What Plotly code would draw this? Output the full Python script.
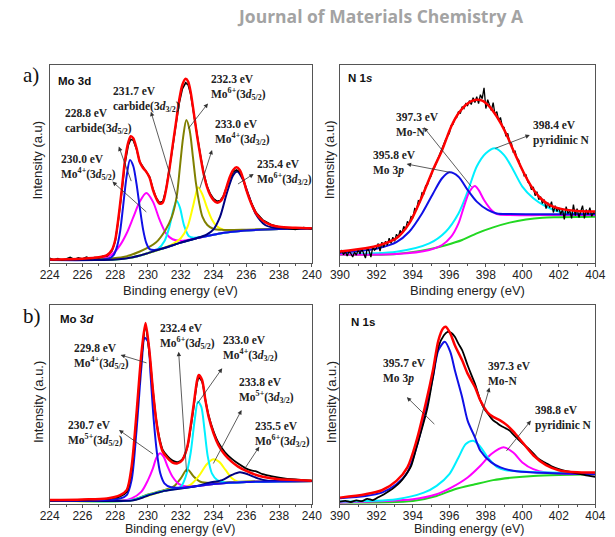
import plotly.graph_objects as go

# ---------------- Panel a (left): Mo 3d ----------------
AM_BG_X = [224, 226, 227, 228, 228.5, 229, 229.5, 230, 230.5, 231, 231.5, 232, 232.5, 233, 233.5, 234, 234.5, 235, 236, 237, 238, 240]
AM_BG_Y = [1.5, 1.5, 1.6, 1.8, 2.2, 2.8, 3.8, 5.0, 6.3, 7.6, 9.0, 10.3, 11.5, 12.6, 13.5, 14.3, 15.0, 15.6, 16.4, 16.9, 17.2, 17.4]

AM_BLUE_X = [224, 227, 227.6, 227.9, 228.1, 228.3, 228.5, 228.7, 228.9, 229.1, 229.3, 229.5, 229.7, 229.9, 230.1, 230.4, 231, 232, 233, 234, 235, 236, 238, 240]
AM_BLUE_Y = [1.5, 1.6, 2.2, 4, 8, 16, 30, 44, 52, 49, 40, 28, 17, 10, 7, 6.6, 7.6, 10.3, 12.6, 14.3, 15.6, 16.4, 17.2, 17.4]

AM_MAG_X = [224, 226.5, 227.5, 227.9, 228.3, 228.7, 229.1, 229.5, 229.9, 230.3, 230.7, 231.1, 231.5, 232.0, 232.5, 233, 234, 235, 236, 238, 240]
AM_MAG_Y = [1.5, 1.7, 3, 5, 9, 15, 23, 31, 35.3, 31, 22, 15, 12, 11.2, 11.8, 12.6, 14.3, 15.6, 16.4, 17.2, 17.4]

AM_CYAN_X = [224, 229, 230, 230.6, 231.0, 231.3, 231.55, 231.75, 231.95, 232.2, 232.5, 232.8, 233.3, 234, 235, 236, 238, 240]
AM_CYAN_Y = [1.5, 2.8, 5, 7, 11, 18, 27, 31.5, 28, 19, 13.5, 12.8, 13.2, 14.3, 15.6, 16.4, 17.2, 17.4]

AM_OLIVE_X = [224, 227.5, 228.5, 229.5, 230.5, 231.07, 231.46, 231.75, 231.95, 232.15, 232.34, 232.54, 232.74, 232.93, 233.13, 233.32, 233.62, 234.0, 234.6, 236, 238, 240]
AM_OLIVE_Y = [1.5, 2.2, 3.0, 5.8, 10.5, 16.7, 23.4, 33.5, 48.6, 63.8, 72.2, 67.2, 53.7, 40.2, 30.1, 23.4, 19.2, 17.2, 16.7, 16.8, 17.2, 17.5]

AM_YEL_X = [224, 229, 230.5, 231.5, 232.0, 232.4, 232.7, 232.9, 233.05, 233.3, 233.6, 233.9, 234.2, 234.6, 235.2, 236, 238, 240]
AM_YEL_Y = [1.5, 2.8, 6.3, 9.5, 12.5, 18, 27, 34, 38.2, 35, 28, 22, 18.5, 16.8, 16.2, 16.6, 17.2, 17.4]

AM_NAVY_X = [224, 228, 229, 230, 231, 232, 233, 233.6, 234.0, 234.4, 234.8, 235.2, 235.45, 235.8, 236.17, 236.56, 237.15, 237.7, 238.5, 240]
AM_NAVY_Y = [1.5, 1.8, 2.8, 5.0, 7.6, 10.3, 12.6, 14.5, 17, 23.4, 35, 44.4, 46.2, 42, 33.5, 25, 19.2, 17.8, 17.4, 17.4]

AM_BLK_X = [224, 224.25, 224.5, 224.75, 225, 225.25, 225.5, 225.75, 226, 226.25, 226.5, 226.75, 227, 227.25, 227.5,
            227.8, 228.0, 228.2, 228.4, 228.6, 228.8, 228.95, 229.1, 229.3, 229.5, 229.7, 229.9, 230.1, 230.3, 230.5,
            230.7, 230.9, 231.1, 231.3, 231.5, 231.7, 231.9, 232.1, 232.3, 232.45, 232.6, 232.8, 233.0, 233.2, 233.4,
            233.6, 233.8, 234.0, 234.2, 234.4, 234.6, 234.8, 235.0, 235.2, 235.4, 235.6, 235.8, 236.0, 236.3, 236.6,
            237.0, 237.5, 238, 238.5, 239, 239.5, 240]
AM_BLK_Y = [2.4, 1.6, 2.2, 1.4, 2.0, 2.8, 1.8, 2.6, 2.0, 3.0, 2.2, 2.8, 2.6, 3.4, 3.6,
            6.0, 11.0, 22, 36, 50.5, 59.5, 62.5, 62, 57.5, 51, 48.5, 46.5, 43.5, 37.5, 33,
            30.5, 31, 37, 46.5, 58, 69.5, 80.5, 88, 91, 90, 85.5, 75, 64, 54.5, 45.5,
            39, 35, 32.5, 31.2, 31.5, 33.8, 38.5, 43, 46, 47, 46, 42.5, 37, 30.5, 25.5,
            21.8, 19.5, 18.2, 17.6, 17.0, 17.9, 17.2]

AM_RED_X = [224, 226, 227, 227.5, 227.8, 228.0, 228.2, 228.4, 228.6, 228.8, 228.95, 229.1, 229.3, 229.5, 229.7,
            229.9, 230.1, 230.3, 230.5, 230.7, 230.9, 231.1, 231.3, 231.5, 231.7, 231.9, 232.1, 232.3, 232.45, 232.6,
            232.8, 233.0, 233.2, 233.4, 233.6, 233.8, 234.0, 234.2, 234.4, 234.6, 234.8, 235.0, 235.2, 235.4, 235.6,
            235.8, 236.0, 236.3, 236.6, 237.0, 237.5, 238, 239, 240]
AM_RED_Y = [1.8, 2.2, 2.9, 4.0, 6.6, 11.6, 23, 37, 52, 61, 64, 63, 58, 51, 48,
            46, 43, 37, 32.7, 30, 30.5, 37, 47, 59, 70.5, 82, 90, 93, 91.6, 86.5,
            75.6, 64, 54, 45, 38.5, 34.3, 31.8, 30.5, 31, 33.5, 38.5, 43.6, 47, 48.3, 47,
            42.8, 36.9, 30, 25, 21.4, 19.2, 18.3, 17.8, 17.5]

# ---------------- Panel a (right): N 1s ----------------
AN_BG_X = [390, 393.1, 394.9, 395.8, 396.7, 397.5, 398.4, 399.3, 400.2, 401.1, 402, 404]
AN_BG_Y = [4.2, 4.6, 7.0, 9.0, 11.6, 15, 18, 20.4, 22, 22.9, 23.1, 23.4]

AN_BLUE_X = [390, 391.4, 392.2, 393.1, 393.8, 394.5, 395.1, 395.6, 396.0, 396.5, 397.0, 397.5, 398.1, 398.6, 399.3, 401, 404]
AN_BLUE_Y = [5.2, 6.4, 7.7, 10.6, 15.8, 25, 35, 42.8, 45.8, 43.6, 36.9, 31, 26.8, 25, 24.7, 24.6, 24.6]

AN_MAG_X = [390, 393.1, 394.9, 395.6, 396.1, 396.5, 396.8, 397.1, 397.4, 397.6, 397.9, 398.3, 398.6, 399.3, 401, 404]
AN_MAG_Y = [4.3, 4.5, 6.6, 9.1, 13.3, 20, 28.5, 36, 38.9, 36.9, 31.8, 26.8, 24.7, 24.2, 24.2, 24.3]

AN_CYAN_X = [390, 393.1, 394.9, 395.8, 396.5, 397.0, 397.5, 398.0, 398.5, 399.0, 399.5, 400.0, 400.6, 401.3, 402.0, 402.9, 404]
AN_CYAN_Y = [4.6, 5.7, 9.9, 15.8, 25, 36, 48.7, 55.4, 57.9, 54.5, 47, 38.6, 32.7, 28.5, 26, 25, 24.7]

AN_BLK_Y = [5.0, 6.5, 4.2, 5.8, 3.5, 6.0, 4.8, 3.0, 5.5, 4.0,
            6.8, 4.5, 7.2, 5.0, 2.5, 7.5, 6.0, 3.0, 8.0, 6.5,
            7.5, 9.8, 6.0, 10.5, 8.0, 11.0, 9.0, 12.5, 10.0, 13.0,
            11.0, 14.5, 13.0, 16.5, 15.0, 18.5, 17.0, 21.0, 20.0, 23.5,
            23.0, 27.5, 27.0, 31.5, 31.0, 35.5, 35.0, 39.0, 39.5, 42.5,
            44.0, 47.5, 48.5, 51.0, 53.5, 55.0, 58.5, 60.0, 62.5, 64.0,
            65.5, 69.5, 70.0, 73.0, 73.5, 76.5, 75.5, 79.0, 78.0, 80.5,
            79.5, 82.0, 80.0, 83.5, 81.0, 84.0, 80.5, 85.0, 83.0, 88.5,
            78.0, 82.5, 80.0, 77.0, 81.0, 75.0, 76.5, 72.0, 73.5, 69.0,
            68.5, 64.0, 65.5, 61.0, 60.5, 56.0, 56.5, 53.0, 52.0, 48.5,
            47.5, 44.0, 44.5, 41.0, 40.0, 37.0, 38.5, 34.0, 36.0, 32.0,
            33.5, 30.0, 32.0, 27.5, 30.5, 28.0, 31.0, 25.5, 29.0, 26.0,
            28.0, 24.5, 27.0, 22.0, 28.5, 25.0, 26.5, 22.5, 29.5, 24.0,
            27.5, 23.0, 26.0, 29.0, 22.5, 27.0, 24.5, 28.0, 23.5, 25.5,
            25.0]
AN_BLK_X = [round(390 + 0.1 * i, 1) for i in range(len(AN_BLK_Y))]

AN_RED_X = [390, 391.4, 392.2, 393.1, 393.8, 394.5, 395.1, 395.6, 396.1, 396.5, 397.0, 397.4, 397.8, 398.2, 398.6, 399.1, 399.5, 400.0, 400.5, 401.0, 401.5, 402.0, 403.0, 404.0]
AN_RED_Y = [5.8, 7.4, 9.1, 12.5, 20, 33.5, 47, 57, 68.9, 75.6, 80.6, 82.3, 82, 79, 73.9, 65.5, 57, 47, 38.6, 32.7, 29.3, 27.6, 26.3, 26]

# ---------------- Panel b (left): Mo 3d ----------------
BM_BG_X = [224, 228, 229, 229.3, 229.6, 230, 230.5, 231, 232, 233, 234, 235, 236, 238, 240]
BM_BG_Y = [1.7, 1.7, 1.9, 2.4, 3.3, 4.5, 5.6, 6.7, 7.9, 9.0, 10.0, 10.7, 11.0, 11.4, 11.6]

BM_BLUE_X = [224, 228.3, 228.7, 229.0, 229.3, 229.6, 229.8, 230.0, 230.15, 230.35, 230.55, 230.75, 231.0, 231.4, 232, 233, 234, 236, 240]
BM_BLUE_Y = [1.7, 2.8, 4.5, 12, 37, 69, 83.5, 81.6, 65.7, 42.2, 25.5, 15.4, 10.4, 8.4, 8.2, 9.0, 10.0, 11.0, 11.6]

BM_MAG_X = [224, 228.5, 229.0, 229.6, 230.0, 230.3, 230.5, 230.73, 230.95, 231.2, 231.5, 231.9, 232.4, 233, 234, 236, 240]
BM_MAG_Y = [1.7, 1.8, 2.8, 6.2, 12, 17.9, 23, 25.5, 23.8, 18.8, 13.7, 10, 8.7, 9.0, 10.0, 11.0, 11.6]

BM_OLIVE_X = [224, 229, 230, 231, 231.6, 232.0, 232.4, 232.8, 233.2, 233.8, 235, 236, 240]
BM_OLIVE_Y = [1.7, 2.0, 4.8, 7, 9, 12.9, 17.4, 13.7, 11.2, 10.6, 11.0, 11.3, 11.8]

BM_CYAN_X = [224, 229, 230, 231, 232.0, 232.3, 232.6, 232.85, 233.05, 233.25, 233.45, 233.65, 233.9, 234.23, 234.8, 236, 240]
BM_CYAN_Y = [1.7, 1.9, 4.5, 6.7, 8.7, 13.7, 25.5, 42.2, 51.4, 48.9, 37.2, 23.8, 15.4, 12, 10.7, 11.0, 11.6]

BM_YEL_X = [224, 229, 231, 232.56, 233.15, 233.55, 233.94, 234.33, 234.73, 235.12, 235.5, 236.5, 240]
BM_YEL_Y = [1.7, 1.9, 6.7, 9.5, 14.6, 19.6, 22.4, 21.3, 17.1, 12.9, 11.2, 11.1, 11.6]

BM_NAVY_X = [224, 228, 229, 229.6, 230, 230.5, 231, 232, 233, 233.74, 234.53, 235.12, 235.6, 236.1, 236.7, 237.3, 238, 240]
BM_NAVY_Y = [1.5, 1.5, 1.7, 3.0, 4.3, 5.5, 6.6, 7.8, 9.0, 10.7, 12, 14.6, 15.9, 14.9, 12.9, 11.7, 11.5, 11.4]

BM_BLK_X = [224, 225, 226, 227, 227.5, 228.3, 228.7, 229.0, 229.3, 229.6, 229.85, 230.1, 230.3, 230.5, 230.7,
            230.9, 231.2, 231.5, 231.8, 232.1, 232.4, 232.6, 232.8, 233.0, 233.1, 233.3, 233.5, 233.7, 234.0, 234.3,
            234.7, 235.1, 235.5, 236.0, 236.3, 236.6, 237.0, 237.5, 238.0, 238.5, 239, 239.5, 240]
BM_BLK_Y = [1.8, 2.0, 2.1, 2.4, 2.6, 3.8, 6.0, 17, 43, 73, 88.5, 74.5, 57, 42.5, 33,
            27.2, 24, 21.8, 21, 22.5, 28.5, 38, 49.5, 61, 63.5, 61.5, 52.5, 44.5, 36.5, 30.8,
            26, 22.8, 20.3, 17.8, 16.9, 16.4, 15.0, 14.0, 13.2, 12.6, 12.4, 12.0, 11.6]

BM_RED_X = [224, 226, 227.5, 228.3, 228.7, 229.0, 229.3, 229.6, 229.85, 230.1, 230.3, 230.5, 230.7, 230.9, 231.2,
            231.5, 231.8, 232.1, 232.4, 232.6, 232.8, 233.0, 233.1, 233.3, 233.5, 233.7, 234.0, 234.3, 234.7, 235.1,
            235.5, 236.0, 236.5, 237.0, 238.0, 239, 240]
BM_RED_Y = [2.0, 2.3, 2.8, 4.5, 7, 18.8, 45.6, 75.7, 91, 75.7, 57.3, 42.2, 32.2, 26.3, 23,
            20.8, 20.4, 22.1, 28.8, 38.9, 50.6, 62.3, 64.8, 62.3, 52.3, 43.9, 35.5, 29.6, 24.6, 21.3,
            18.8, 16.6, 14.9, 13.7, 12.4, 12.1, 11.7]

# ---------------- Panel b (right): N 1s ----------------
BN_BG_X = [390, 394, 395.3, 396.3, 397.4, 398.4, 399.5, 400.6, 402, 404]
BN_BG_Y = [0.7, 1.5, 4, 7.4, 9.9, 12, 13.3, 14.1, 14.6, 15]

BN_BLUE_X = [390, 391.4, 392.3, 393.1, 393.7, 394.2, 394.7, 395.1, 395.4, 395.75, 396.05, 396.3, 396.7, 397.0, 397.4, 397.7, 398.3, 398.8, 399.5, 400.6, 404]
BN_BLUE_Y = [2.9, 4.0, 5.7, 9.9, 15.8, 28.5, 47, 63.8, 77.3, 81.5, 76.4, 67.2, 53.7, 41.9, 33.5, 26.8, 20.9, 18.4, 16.7, 15.8, 15]

BN_CYAN_X = [390, 393.1, 394.6, 395.3, 396.0, 396.5, 396.9, 397.3, 397.65, 398.1, 398.6, 399.1, 400.2, 404]
BN_CYAN_Y = [1.2, 2.4, 5.7, 9.1, 15, 23.4, 30.1, 31.8, 29.3, 23.4, 18.7, 17, 16.2, 15.3]

BN_MAG_X = [390, 394.0, 395.3, 396.1, 397.0, 397.7, 398.3, 398.97, 399.5, 400.0, 400.6, 401.3, 404]
BN_MAG_Y = [0.8, 2.4, 4.9, 8.2, 13.3, 19.2, 25.1, 28.5, 25.9, 20.9, 17.5, 15.8, 15]

BN_BLK_X = [390, 390.3, 390.6, 390.9, 391.2, 391.5, 391.8, 392.1, 392.4, 392.7, 393.0, 393.3, 393.6, 393.9, 394.2,
            394.5, 394.8, 395.1, 395.4, 395.7, 395.9, 396.1, 396.3, 396.5, 396.7, 397.0, 397.2, 397.4, 397.7, 397.9,
            398.1, 398.4, 398.6, 398.8, 399.1, 399.3, 399.5, 399.8, 400.0, 400.3, 400.6, 400.9, 401.3, 401.6, 402.0,
            402.4, 402.8, 403.2, 403.6, 404]
BN_BLK_Y = [1.2, 1.6, 1.0, 1.8, 1.4, 2.6, 2.0, 3.4, 4.8, 6.5, 8.5, 11.0, 14.5, 19.0, 28.5,
            38.0, 48.5, 63.8, 79.0, 84.8, 86.5, 86.0, 84.0, 80.5, 77.3, 69.7, 65.0, 60.5, 52.0, 48.0,
            45.5, 42.0, 40.8, 39.4, 38.0, 36.9, 35.0, 32.2, 30.5, 28.2, 25.5, 22.6, 20.5, 19.0, 17.5,
            16.5, 15.8, 15.0, 14.2, 13.6]

BN_RED_X = [390, 391.4, 392.3, 393.1, 393.7, 394.2, 394.7, 395.1, 395.4, 395.65, 395.8, 396.05, 396.3, 396.7, 397.0, 397.4, 397.7, 398.1, 398.4, 398.8, 399.1, 399.5, 400.0, 400.6, 401.3, 402, 403, 404]
BN_RED_Y = [3.2, 4.9, 6.9, 11.6, 18.4, 31.8, 50.3, 67.2, 82.3, 88.2, 89.1, 85.7, 79.8, 72.2, 65.5, 58.8, 52, 46, 43.8, 41.9, 40, 36.5, 31, 24.5, 19.5, 17, 15.9, 15.8]

# ---------------- Labels ----------------
AM_LABELS = [
    (224.8, 71.4, "228.8 eV<br>carbide(3<i>d</i><sub>5/2</sub>)"),
    (224.6, 48.3, "230.0 eV<br>Mo<sup>4+</sup>(3<i>d</i><sub>5/2</sub>)"),
    (227.75, 82.7, "231.7 eV<br>carbide(3<i>d</i><sub>3/2</sub>)"),
    (233.72, 88.7, "232.3 eV<br>Mo<sup>6+</sup>(3<i>d</i><sub>5/2</sub>)"),
    (233.97, 65.8, "233.0 eV<br>Mo<sup>4+</sup>(3<i>d</i><sub>3/2</sub>)"),
    (236.56, 45.6, "235.4 eV<br>Mo<sup>6+</sup>(3<i>d</i><sub>3/2</sub>)"),
]
AM_ARROWS = [  # head x, head y, tail x, tail y
    (227.83, 41.1, 229.99, 25.1),
    (228.22, 58.8, 229.01, 40.6),
    (230.18, 76.4, 231.81, 31.8),
    (233.66, 80.6, 232.40, 67.2),
    (233.91, 57.1, 233.13, 36.9),
    (236.45, 45.0, 235.40, 39.4),
]
AN_LABELS = [
    (392.95, 69.7, "397.3 eV<br>Mo-N"),
    (391.68, 50.3, "395.8 eV<br>Mo 3<i>p</i>"),
    (400.46, 65.8, "398.4 eV<br>pyridinic N"),
]
AN_ARROWS = [
    (393.66, 50.0, 396.13, 45.6),
    (394.60, 68.5, 397.28, 37.7),
    (400.41, 64.6, 398.43, 57.6),
]
BM_LABELS = [
    (225.38, 74.0, "229.8 eV<br>Mo<sup>4+</sup>(3<i>d</i><sub>5/2</sub>)"),
    (224.98, 35.5, "230.7 eV<br>Mo<sup>5+</sup>(3<i>d</i><sub>5/2</sub>)"),
    (230.63, 84.4, "232.4 eV<br>Mo<sup>6+</sup>(3<i>d</i><sub>5/2</sub>)"),
    (234.43, 78.2, "233.0 eV<br>Mo<sup>4+</sup>(3<i>d</i><sub>3/2</sub>)"),
    (235.42, 56.8, "233.8 eV<br>Mo<sup>5+</sup>(3<i>d</i><sub>3/2</sub>)"),
    (236.40, 35.0, "235.5 eV<br>Mo<sup>6+</sup>(3<i>d</i><sub>3/2</sub>)"),
]
BM_ARROWS = [
    (228.33, 74.9, 230.00, 70.7),
    (228.23, 37.2, 230.40, 24.6),
    (231.87, 76.5, 232.36, 15.4),
    (234.53, 68.2, 232.95, 49.7),
    (235.71, 47.2, 233.94, 19.6),
    (236.79, 28.8, 235.81, 16.6),
]
BN_LABELS = [
    (392.26, 66.8, "395.7 eV<br>Mo 3<i>p</i>"),
    (398.00, 65.8, "397.3 eV<br>Mo-N"),
    (400.56, 43.2, "398.8 eV<br>pyridinic N"),
]
BN_ARROWS = [
    (393.67, 53.7, 395.26, 39.4),
    (398.20, 58.5, 397.40, 33.0),
    (400.47, 41.9, 399.06, 25.9),
]

C_RED = "#ff0000"
C_BLK = "#000000"
C_BLUE = "#1010e6"
C_MAG = "#ff00ff"
C_CYAN = "#00f0ff"
C_OLIVE = "#808000"
C_YEL = "#ffff00"
C_NAVY = "#000080"
C_GREEN = "#22d822"

fig = go.Figure()


def add(xs, ys, color, width, ax, shape="spline"):
    xa = "x" if ax == 1 else "x%d" % ax
    ya = "y" if ax == 1 else "y%d" % ax
    line = dict(color=color, width=width, shape=shape)
    if shape == "spline":
        line["smoothing"] = 0.8
    fig.add_trace(go.Scatter(x=xs, y=ys, mode="lines", line=line, xaxis=xa, yaxis=ya,
                             hoverinfo="skip", showlegend=False))


# panel 1
add(AM_BG_X, AM_BG_Y, C_GREEN, 2, 1)
add(AM_MAG_X, AM_MAG_Y, C_MAG, 2, 1)
add(AM_CYAN_X, AM_CYAN_Y, C_CYAN, 2, 1)
add(AM_YEL_X, AM_YEL_Y, C_YEL, 2, 1)
add(AM_OLIVE_X, AM_OLIVE_Y, C_OLIVE, 2, 1)
add(AM_BLUE_X, AM_BLUE_Y, C_BLUE, 2, 1)
add(AM_NAVY_X, AM_NAVY_Y, C_NAVY, 2, 1)
add(AM_BLK_X, AM_BLK_Y, C_BLK, 1.6, 1, "linear")
add(AM_RED_X, AM_RED_Y, C_RED, 2.5, 1)
# panel 2
add(AN_BG_X, AN_BG_Y, C_GREEN, 2, 2)
add(AN_CYAN_X, AN_CYAN_Y, C_CYAN, 2, 2)
add(AN_MAG_X, AN_MAG_Y, C_MAG, 2, 2)
add(AN_BLUE_X, AN_BLUE_Y, C_BLUE, 2, 2)
add(AN_BLK_X, AN_BLK_Y, C_BLK, 1.3, 2, "linear")
add(AN_RED_X, AN_RED_Y, C_RED, 2.5, 2)
# panel 3
add(BM_BG_X, BM_BG_Y, C_GREEN, 2, 3)
add(BM_OLIVE_X, BM_OLIVE_Y, C_OLIVE, 2, 3)
add(BM_YEL_X, BM_YEL_Y, C_YEL, 2, 3)
add(BM_MAG_X, BM_MAG_Y, C_MAG, 2, 3)
add(BM_CYAN_X, BM_CYAN_Y, C_CYAN, 2, 3)
add(BM_NAVY_X, BM_NAVY_Y, C_NAVY, 2, 3)
add(BM_BLUE_X, BM_BLUE_Y, C_BLUE, 2, 3)
add(BM_BLK_X, BM_BLK_Y, C_BLK, 1.8, 3)
add(BM_RED_X, BM_RED_Y, C_RED, 2.5, 3)
# panel 4
add(BN_BG_X, BN_BG_Y, C_GREEN, 2, 4)
add(BN_MAG_X, BN_MAG_Y, C_MAG, 2, 4)
add(BN_CYAN_X, BN_CYAN_Y, C_CYAN, 2, 4)
add(BN_BLUE_X, BN_BLUE_Y, C_BLUE, 2, 4)
add(BN_BLK_X, BN_BLK_Y, C_BLK, 1.8, 4)
add(BN_RED_X, BN_RED_Y, C_RED, 2.5, 4)

W, H = 615, 537
AX_COLOR = "#555555"
TICK_FONT = dict(family="Liberation Sans, Arial, sans-serif", size=12, color="#222222")


def xaxis(rng, dom, anchor):
    return dict(range=rng, domain=dom, anchor=anchor, dtick=2, tick0=rng[0], ticks="outside", ticklen=3,
                tickwidth=1, tickcolor=AX_COLOR, showline=True, linecolor=AX_COLOR, linewidth=1, mirror=True,
                showgrid=False, zeroline=False, tickfont=TICK_FONT, ticklabelstandoff=-2,
                minor=dict(dtick=1, ticks="outside", ticklen=2, tickcolor=AX_COLOR, showgrid=False))


def yaxis(dom, anchor):
    return dict(range=[0, 100], domain=dom, anchor=anchor, showticklabels=False, ticks="", showline=True,
                linecolor=AX_COLOR, linewidth=1, mirror=True, showgrid=False, zeroline=False)


LX = [41 / W, 312 / W]
RX = [341 / W, 605 / W]
TY = [1 - 263 / H, 1 - 65 / H]
BY = [1 - 504 / H, 1 - 305 / H]

annotations = []
LBL_FONT = dict(family="Liberation Serif, Times New Roman, serif", size=11.5, color="#222222")


def panel_annots(labels, arrows, ax):
    xr = "x" if ax == 1 else "x%d" % ax
    yr = "y" if ax == 1 else "y%d" % ax
    for (x, y, t) in labels:
        annotations.append(dict(x=x, y=y, xref=xr, yref=yr, text="<b>" + t + "</b>", showarrow=False,
                                xanchor="left", yanchor="middle", align="left", font=LBL_FONT))
    for (hx, hy, tx, ty) in arrows:
        annotations.append(dict(x=hx, y=hy, xref=xr, yref=yr, ax=tx, ay=ty, axref=xr, ayref=yr, text="",
                                showarrow=True, arrowhead=2, arrowsize=1.1, arrowwidth=0.8,
                                arrowcolor="#333333", standoff=0, startstandoff=0))


panel_annots(AM_LABELS, AM_ARROWS, 1)
panel_annots(AN_LABELS, AN_ARROWS, 2)
panel_annots(BM_LABELS, BM_ARROWS, 3)
panel_annots(BN_LABELS, BN_ARROWS, 4)


def paper_text(px, py, text, font, angle=0, xanchor="center"):
    annotations.append(dict(x=px / W, y=1 - py / H, xref="paper", yref="paper", text=text, showarrow=False,
                            xanchor=xanchor, yanchor="middle", textangle=angle, font=font))


AX_FONT = dict(family="Liberation Sans, Arial, sans-serif", size=13, color="#222222")
BOT_FONT = dict(family="Liberation Sans, Arial, sans-serif", size=12.5, color="#222222")
TITLE_FONT = dict(family="Liberation Sans, Arial, sans-serif", size=11.5, color="#111111")
paper_text(383, 16, "<b>Journal of Materials Chemistry A</b>",
           dict(family="Open Sans, sans-serif", size=17.5, color="#a3a3a3"))
paper_text(22, 75, "a)", dict(family="Liberation Serif, serif", size=21, color="#111111"))
paper_text(23, 316, "b)", dict(family="Liberation Serif, serif", size=21, color="#111111"))
paper_text(48, 81, "<b>Mo 3d</b>", TITLE_FONT, xanchor="left")
paper_text(347, 78, "<b>N 1<i>s</i></b>", TITLE_FONT, xanchor="left")
paper_text(50, 319, "<b>Mo 3<i>d</i></b>", TITLE_FONT, xanchor="left")
paper_text(350, 322, "<b>N 1s</b>", TITLE_FONT, xanchor="left")
paper_text(27.5, 160, "Intensity (a.u)", AX_FONT, angle=-90)
paper_text(330, 160, "Intensity (a.u)", AX_FONT, angle=-90)
paper_text(29, 402, "Intensity (a.u.)", AX_FONT, angle=-90)
paper_text(332, 402, "Intensity (a.u.)", AX_FONT, angle=-90)
paper_text(176, 290.5, "Binding energy (eV)", AX_FONT)
paper_text(473, 290.5, "Binding energy (eV)", AX_FONT)
paper_text(176, 528.5, "Binding energy (eV)", BOT_FONT)
paper_text(474, 528.5, "Binding energy (eV)", BOT_FONT)

fig.update_layout(
    width=W, height=H, margin=dict(l=0, r=0, t=0, b=0),
    paper_bgcolor="white", plot_bgcolor="white", showlegend=False,
    xaxis=xaxis([224, 240], LX, "y"), yaxis=yaxis(TY, "x"),
    xaxis2=xaxis([390, 404], RX, "y2"), yaxis2=yaxis(TY, "x2"),
    xaxis3=xaxis([224, 240], LX, "y3"), yaxis3=yaxis(BY, "x3"),
    xaxis4=xaxis([390, 404], RX, "y4"), yaxis4=yaxis(BY, "x4"),
    annotations=annotations,
)

fig.write_html("out.html", config={"displayModeBar": False})
